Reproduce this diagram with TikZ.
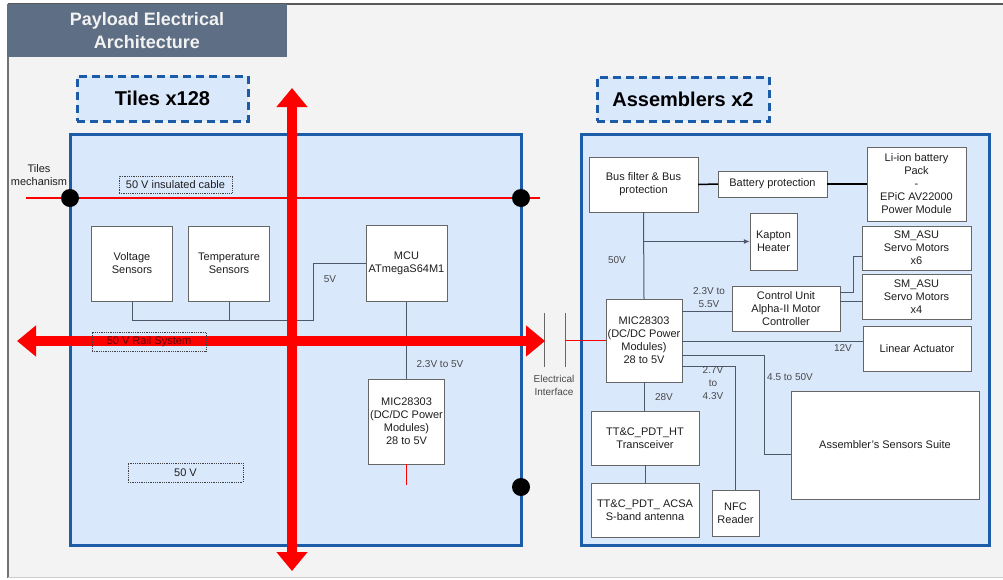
\documentclass[tikz,border=0pt]{standalone}
\usepackage{fontspec}
\setmainfont{Liberation Sans}
\usepackage{xcolor}
\usetikzlibrary{arrows.meta, positioning, calc}

\definecolor{pagegray}{HTML}{F3F3F3}
\definecolor{titlegray}{HTML}{5E6E84}
\definecolor{archblue}{HTML}{1B5BA8}
\definecolor{archfill}{HTML}{DAE8FC}
\definecolor{wiregray}{HTML}{4E5868}
\definecolor{txtgray}{HTML}{1E1E1E}
\definecolor{lblgray}{HTML}{484848}
\definecolor{railred}{HTML}{FF0000}

\begin{document}
\begin{tikzpicture}[x=1pt, y=-1pt,
  every node/.style={font=\fontsize{11}{13}\selectfont, text=txtgray},
  blk/.style={draw=black!60, fill=white, align=center, inner sep=1pt},
  group/.style={draw=archblue, line width=3pt, fill=archfill, inner sep=0pt},
  tag/.style={draw=archblue, line width=3pt, dash pattern=on 8pt off 5pt, fill=archfill,
    font=\fontsize{20}{24}\selectfont\bfseries, text=black},
  note/.style={draw=black!75, densely dotted, thick, inner sep=0pt},
  wire/.style={draw=wiregray, line width=1pt},
  lbl/.style={text=lblgray, align=center, font=\fontsize{10}{13}\selectfont},
  rail/.style={draw=railred, line width=10pt,
    arrows={Triangle[width=30pt,length=19pt]-Triangle[width=30pt,length=19pt]}},
  joint/.style={circle, fill=black, inner sep=0pt, minimum size=18pt}
]
  \useasboundingbox (0,0) rectangle (1003,579);
  % page frame
  \fill[pagegray] (7,4) rectangle (1003,578);
  \draw[black!55, line width=2pt] (8,4) -- (8,578);
  \draw[black!65, line width=2.5pt] (8,4) -- (1003,4);
  \draw[black!20, line width=1pt] (8,577.5) -- (1003,577.5);

  \node[fill=titlegray, minimum width=280pt, minimum height=53pt, align=center, text=black!5,
        font=\fontsize{18}{23}\selectfont\bfseries] (title) at (147,30.5) {Payload Electrical\\Architecture};

  \node[tag, minimum width=171pt, minimum height=45pt] (tilestag) at (162.5,98.5) {Tiles x128};
  \node[tag, minimum width=172pt, minimum height=44pt] (assmtag) at (683,99) {Assemblers x2};

  \node[group, minimum width=451pt, minimum height=411pt] (tiles) at (295.5,339.5) {};
  \node[group, minimum width=408pt, minimum height=411pt] (assm) at (785,339.5) {};

  % tiles side
  \node[align=center] (mech) at (39,175) {Tiles\\mechanism};
  \coordinate (mechW) at (26,198);
  \coordinate (mechE) at (540,198);
  \draw[railred, line width=1.2pt] (mechW) -- (mechE);
  \node[note, minimum width=113pt, minimum height=17pt] (cable) at (175.5,184.5) {50 V insulated cable};
  \node[note, minimum width=115pt, minimum height=19pt] (fifty) at (185.5,472.5) {50 V};

  \node[blk, minimum width=81pt, minimum height=75pt] (volt) at (132,263.5) {Voltage\\Sensors};
  \node[blk, minimum width=81pt, minimum height=75pt] (temp) at (229,263.5) {Temperature\\Sensors};
  \node[blk, minimum width=81pt, minimum height=76pt] (mcu) at (406.5,263.5) {MCU\\ATmegaS64M1};
  \node[blk, minimum width=76pt, minimum height=85pt] (mict) at (406.5,421.5) {MIC28303\\(DC/DC Power\\Modules)\\28 to 5V};

  \draw[wire] (volt.south) |- (313,320) |- (mcu.west);
  \draw[wire] (temp.south) -- (temp.south |- 0,320);
  \draw[wire] (mcu.south) -- (mict.north);
  \draw[railred, line width=1pt] (mict.south) -- ++(0,21);
  \node[lbl] (vfive) at (330,279) {5V};
  \node[lbl] (vmcu) at (440,364) {2.3V to 5V};

  % assemblers side
  \node[blk, minimum width=109pt, minimum height=55pt] (busf) at (643.5,184.5) {Bus filter \& Bus\\protection};
  \node[blk, minimum width=109pt, minimum height=26pt] (batp) at (772.5,184) {Battery protection};
  \node[blk, minimum width=99pt, minimum height=74pt] (liion) at (916.5,184) {Li-ion battery\\Pack\\-\\EPiC AV22000\\Power Module};
  \node[blk, minimum width=47pt, minimum height=57pt] (kapton) at (773.5,241.5) {Kapton\\Heater};
  \node[blk, minimum width=109pt, minimum height=44pt] (smsix) at (916.5,248) {SM\_ASU\\Servo Motors\\x6};
  \node[blk, minimum width=109pt, minimum height=45pt] (smfour) at (916.5,296.5) {SM\_ASU\\Servo Motors\\x4};
  \node[blk, minimum width=108pt, minimum height=45pt] (linact) at (917,348.5) {Linear Actuator};
  \node[blk, minimum width=108pt, minimum height=45pt] (ctrl) at (786,308.5) {Control Unit\\Alpha-II Motor\\Controller};
  \node[blk, minimum width=76pt, minimum height=83pt] (mica) at (644,340.5) {MIC28303\\(DC/DC Power\\Modules)\\28 to 5V};
  \node[blk, minimum width=108pt, minimum height=54pt] (ttch) at (645,438) {TT\&C\_PDT\_HT\\Transceiver};
  \node[blk, minimum width=108pt, minimum height=54pt] (ttca) at (645,510) {TT\&C\_PDT\_ ACSA\\S-band antenna};
  \node[blk, minimum width=47pt, minimum height=46pt] (nfc) at (735.5,513) {NFC\\Reader};
  \node[blk, minimum width=188pt, minimum height=108pt] (suite) at (885,445) {Assembler's Sensors Suite};

  \draw[black, line width=1.5pt] (busf.east) -- (batp.west);
  \draw[black, line width=1.5pt] (batp.east) -- (liion.west);
  \draw[wire] (busf.south) -- (mica.north);
  \draw[wire, -{Latex[length=6pt,width=5pt]}] (busf.south |- kapton.west) -- (kapton.west);
  \draw[wire] (mica.east |- 0,311) -- (ctrl.west |- 0,311);
  \draw[wire] (ctrl.east |- 0,292) -- (853,292) |- (smsix.west |- 0,256);
  \draw[wire] (ctrl.east |- 0,301) -- (smfour.west |- 0,301);
  \draw[wire] (mica.east |- 0,341) -- (linact.west |- 0,341);
  \draw[wire] (mica.east |- 0,355) -| (764,454) -- (suite.west |- 0,454);
  \draw[wire] (mica.east |- 0,366) -| (nfc.north);
  \draw[wire] (mica.south) -- (mica.south |- ttch.north);
  \draw[wire] (ttch.south) -- (ttca.north);

  \node[lbl] (vbus) at (617,260) {50V};
  \node[lbl] (vctrl) at (709,298) {2.3V to\\5.5V};
  \node[lbl] (vlin) at (843,348) {12V};
  \node[lbl] (vsuite) at (790,377) {4.5 to 50V};
  \node[lbl] (vnfc) at (713,383) {2.7V\\to\\4.3V};
  \node[lbl] (vtt) at (664,397) {28V};

  % electrical interface
  \coordinate (eiA) at (544,313);
  \coordinate (eiB) at (565,313);
  \draw[black!60, line width=1pt] (eiA) -- ++(0,54);
  \draw[black!60, line width=1pt] (eiB) -- ++(0,54);
  \draw[railred, line width=1.5pt] (eiB |- mica.west) -- (mica.west);
  \node[lbl] (einame) at (554,385) {Electrical\\Interface};

  % joints and rails
  \node[joint] (jW) at (70,198) {};
  \node[joint] (jE) at (521,198) {};
  \node[joint] (jS) at (521,487) {};
  \coordinate (railW) at (17,341);
  \coordinate (railE) at (545,341);
  \coordinate (railN) at (292,88);
  \coordinate (railS) at (292,571);
  \draw[rail] (railW) -- (railE);
  \draw[rail] (railN) -- (railS);
  \node[note, minimum width=114pt, minimum height=19pt, text=red!35!black] (railsys) at (149,341.5) {50 V Rail System};
\end{tikzpicture}
\end{document}
